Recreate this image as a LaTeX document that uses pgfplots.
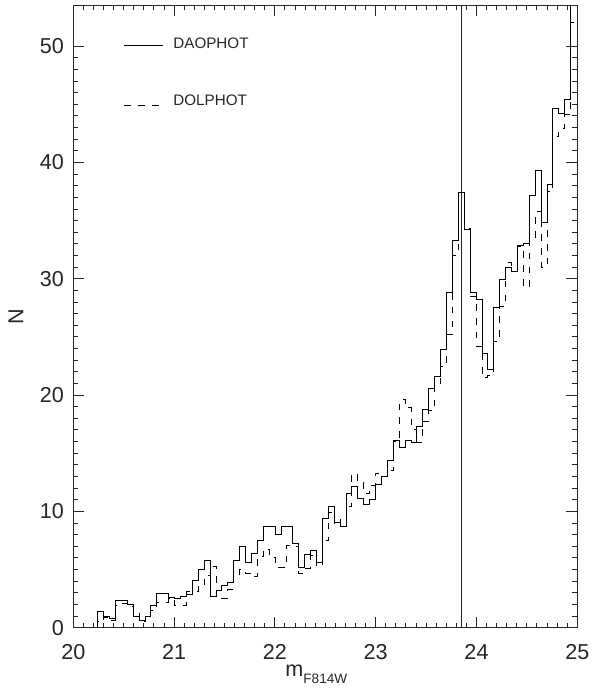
\documentclass[border=0pt]{standalone}
\usepackage{fontspec}
\setmainfont{Liberation Sans}
\usepackage{pgfplots}
\pgfplotsset{compat=1.18}
\usepackage{pgfplotstable}

\pgfplotstableread{
x S D
20.2430 0 0
20.2430 1.38 0.5
20.3016 1.0 0.9
20.3603 0.8 0.6
20.4189 2.35 1.9
20.4776 2.35 2.1
20.5362 2.0 1.8
20.5948 1.0 1.2
20.6535 0.66 0.5
20.7121 1.0 0.9
20.7708 1.9 1.5
20.8294 2.95 2.2
20.8880 2.95 2.2
20.9467 2.6 2.5
21.0053 2.55 1.9
21.0640 2.67 1.9
21.1226 2.85 3.1
21.1812 4.1 3.1
21.2399 5.0 3.5
21.2985 5.8 4.5
21.3572 2.72 5.3
21.4158 3.2 2.5
21.4744 3.67 2.5
21.5331 3.87 3.3
21.5917 5.82 4.4
21.6504 7.0 5.0
21.7090 5.6 4.7
21.7676 6.4 4.4
21.8263 7.5 6.1
21.8849 8.68 6.75
21.9436 8.68 6.0
22.0022 8.02 5.2
22.0608 8.74 5.2
22.1195 8.74 7.1
22.1781 7.22 7.0
22.2368 5.2 4.67
22.2954 6.33 5.1
22.3540 6.67 6.2
22.4127 5.59 5.3
22.4713 9.36 7.5
22.5300 10.45 9.9
22.5886 9.02 8.8
22.6472 8.7 9.3
22.7059 11.5 10.4
22.7645 12.15 13.2
22.8232 11.1 12.5
22.8818 10.6 11.5
22.9404 11.0 12.2
22.9991 12.3 13.3
23.0577 13.0 13.0
23.1164 14.4 13.5
23.1750 16.13 16.0
23.2336 15.5 19.6
23.2923 16.1 18.9
23.3509 15.9 17.0
23.4096 17.3 15.96
23.4682 18.8 17.7
23.5268 20.6 18.7
23.5855 21.6 21.0
23.6441 23.9 22.5
23.7028 28.8 25.2
23.7614 33.3 32.0
23.8200 37.4 35.3
23.8787 34.2 34.3
23.9373 28.8 28.5
23.9960 28.2 24.2
24.0546 23.6 21.5
24.1132 22.2 21.7
24.1719 27.5 24.6
24.2305 29.9 27.6
24.2892 31.0 31.4
24.3478 30.6 30.6
24.4064 32.9 32.8
24.4651 33.0 29.3
24.5237 37.2 33.5
24.5824 39.35 35.8
24.6410 34.8 31.0
24.6996 38.1 37.5
24.7583 44.6 42.2
24.8169 44.2 42.9
24.8756 45.4 44.1
24.9342 56 52
24.9928 56 52
}\hist

\pgfplotstableread{
x y
23.855 0
23.855 53.5
}\vline

\pgfplotstableread{
x a b
20.504 50.02 44.94
20.843 50.02 44.94
20.893 50.02 44.94
}\legsamp

\begin{document}
\begin{tikzpicture}
\begin{axis}[
  scale only axis,
  width=252pt, height=311.1pt,
  xmin=20, xmax=25, ymin=0, ymax=53.5,
  xtick={20,21,22,23,24,25},
  ytick={0,10,20,30,40,50},
  minor x tick num=9, minor y tick num=9,
  major tick length=5.5pt, minor tick length=2.5pt,
  tick align=inside,
  axis line style={line width=0.5pt, black!85},
  every tick/.style={line width=0.5pt, black!85},
  /pgf/number format/assume math mode=true,
  ticklabel style={font=\fontsize{10.8}{12}\selectfont, text=black!85},
  xticklabel style={yshift=-4.9pt},
  yticklabel style={xshift=-1.2pt},
  xlabel={m\raisebox{-3.6pt}{\fontsize{6.8}{8}\selectfont F814W}},
  xlabel style={at={(axis description cs:0.5,0)}, anchor=base, yshift=-24.5pt, xshift=-4.5pt, font=\fontsize{10.8}{12}\selectfont, text=black!85},
  ylabel={N},
  ylabel style={at={(axis description cs:0,0.5)}, anchor=center, yshift=28.7pt, font=\fontsize{10.8}{12}\selectfont, text=black!85},
]
\addplot[const plot, line width=0.5pt, black] table[x=x, y=S] {\hist};
\addplot[const plot, line width=0.5pt, black, dash pattern=on 3.3pt off 3.6pt] table[x=x, y=D] {\hist};
\addplot[line width=0.5pt, black!85] table[x=x, y=y] {\vline};
% legend samples
\addplot[line width=0.5pt, black] table[x=x, y=a] {\legsamp};
\addplot[line width=0.5pt, black, dash pattern=on 3.3pt off 3.6pt] table[x=x, y=b] {\legsamp};
\node[anchor=west, inner sep=0pt, font=\fontsize{7.6}{9}\selectfont, text=black!85] at (axis cs:20.989,50.28) {DAOPHOT};
\node[anchor=west, inner sep=0pt, font=\fontsize{7.6}{9}\selectfont, text=black!85] at (axis cs:20.989,45.37) {DOLPHOT};
\end{axis}
\pgfresetboundingbox
\path[use as bounding box] ([xshift=-36.65pt,yshift=-31.15pt]current axis.south west) rectangle ([xshift=7.35pt,yshift=2.75pt]current axis.north east);
\end{tikzpicture}
\end{document}
